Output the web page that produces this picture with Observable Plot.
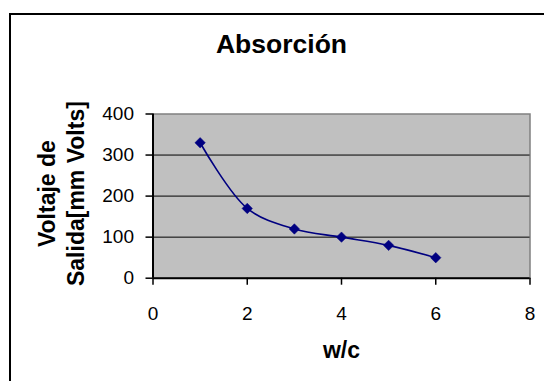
<!DOCTYPE html>
<html>
<head>
<meta charset="utf-8">
<script src="https://cdn.jsdelivr.net/npm/d3@7"></script>
<script src="https://cdn.jsdelivr.net/npm/@observablehq/plot@0.6"></script>
<style>
  html, body { margin: 0; padding: 0; background: #fff; overflow: hidden; }
  #wrap { position: relative; width: 544px; height: 381px; overflow: hidden; }
  #border { position: absolute; left: 9px; top: 13px; width: 700px; height: 600px;
            border-top: 2px solid #000; border-left: 2px solid #000; box-sizing: border-box; }
  #chart { position: absolute; left: 0; top: 0; }
  svg { font-family: "Liberation Sans", Arial, sans-serif; color: #000; }
</style>
</head>
<body>
<div id="wrap"><div id="border"></div><div id="chart"></div></div>
<script>
const title = "Absorción";
const xLabel = "w/c";
const yLabel = "Voltaje de\nSalida[mm Volts]";
const wc = [1, 2, 3, 4, 5, 6];
const voltaje = [330, 170, 120, 100, 80, 50];
const xTicks = [0, 2, 4, 6, 8];
const yTicks = [0, 100, 200, 300, 400];
const gridValues = [100, 200, 300];

const data = wc.map((x, i) => ({x, y: voltaje[i]}));

const chart = Plot.plot({
  width: 544,
  height: 381,
  marginLeft: 152.5,
  marginRight: 14.5,
  marginTop: 113.5,
  marginBottom: 103.3,
  style: {background: "transparent", fontFamily: "'Liberation Sans', Arial, sans-serif", color: "#000", overflow: "visible"},
  x: {domain: [0, 8]},
  y: {domain: [0, 400]},
  marks: [
    Plot.frame({fill: "#c0c0c0", stroke: "#808080", strokeWidth: 1.5}),
    Plot.ruleY(gridValues, {stroke: "#000", strokeWidth: 1}),
    Plot.axisY({ticks: yTicks, tickSize: 7, tickFormat: () => "", stroke: "#000", strokeWidth: 1.5, label: null}),
    Plot.axisX({ticks: xTicks, tickSize: 7, tickFormat: () => "", stroke: "#000", strokeWidth: 1.5, label: null}),
    Plot.text(yTicks, {frameAnchor: "left", y: d => d, text: d => String(d), textAnchor: "end", lineAnchor: "middle", dx: -19, fontSize: 19, fill: "#000"}),
    Plot.text(xTicks, {frameAnchor: "bottom", x: d => d, text: d => String(d), textAnchor: "middle", lineAnchor: "middle", dy: 36, fontSize: 19, fill: "#000"}),
    Plot.ruleX([0], {stroke: "#000", strokeWidth: 2}),
    Plot.ruleY([0], {stroke: "#000", strokeWidth: 2}),
    Plot.line(data, {x: "x", y: "y", curve: "catmull-rom", stroke: "#000080", strokeWidth: 1.6}),
    Plot.dot(data, {x: "x", y: "y", symbol: "diamond2", r: 4.7, fill: "#000080", stroke: "#000080", strokeWidth: 0.5}),
    Plot.text([title], {frameAnchor: "top-left", dx: 128.5, dy: -69.5, text: d => d, textAnchor: "middle", lineAnchor: "middle", fontSize: 26.5, fontWeight: "bold", fill: "#000"}),
    Plot.text([xLabel], {frameAnchor: "bottom", dy: 72.7, text: d => d, textAnchor: "middle", lineAnchor: "middle", fontSize: 23, fontWeight: "bold", fill: "#000"}),
    Plot.text([yLabel], {frameAnchor: "left", dx: -93, dy: -2.5, text: d => d, rotate: -90, textAnchor: "middle", lineAnchor: "middle", lineHeight: 1.28, fontSize: 23, fontWeight: "bold", fill: "#000"})
  ]
});
document.getElementById("chart").appendChild(chart);
// force a layout pass so text metrics are settled before the snapshot
chart.querySelectorAll("text").forEach(t => t.getBoundingClientRect());
</script>
</body>
</html>
